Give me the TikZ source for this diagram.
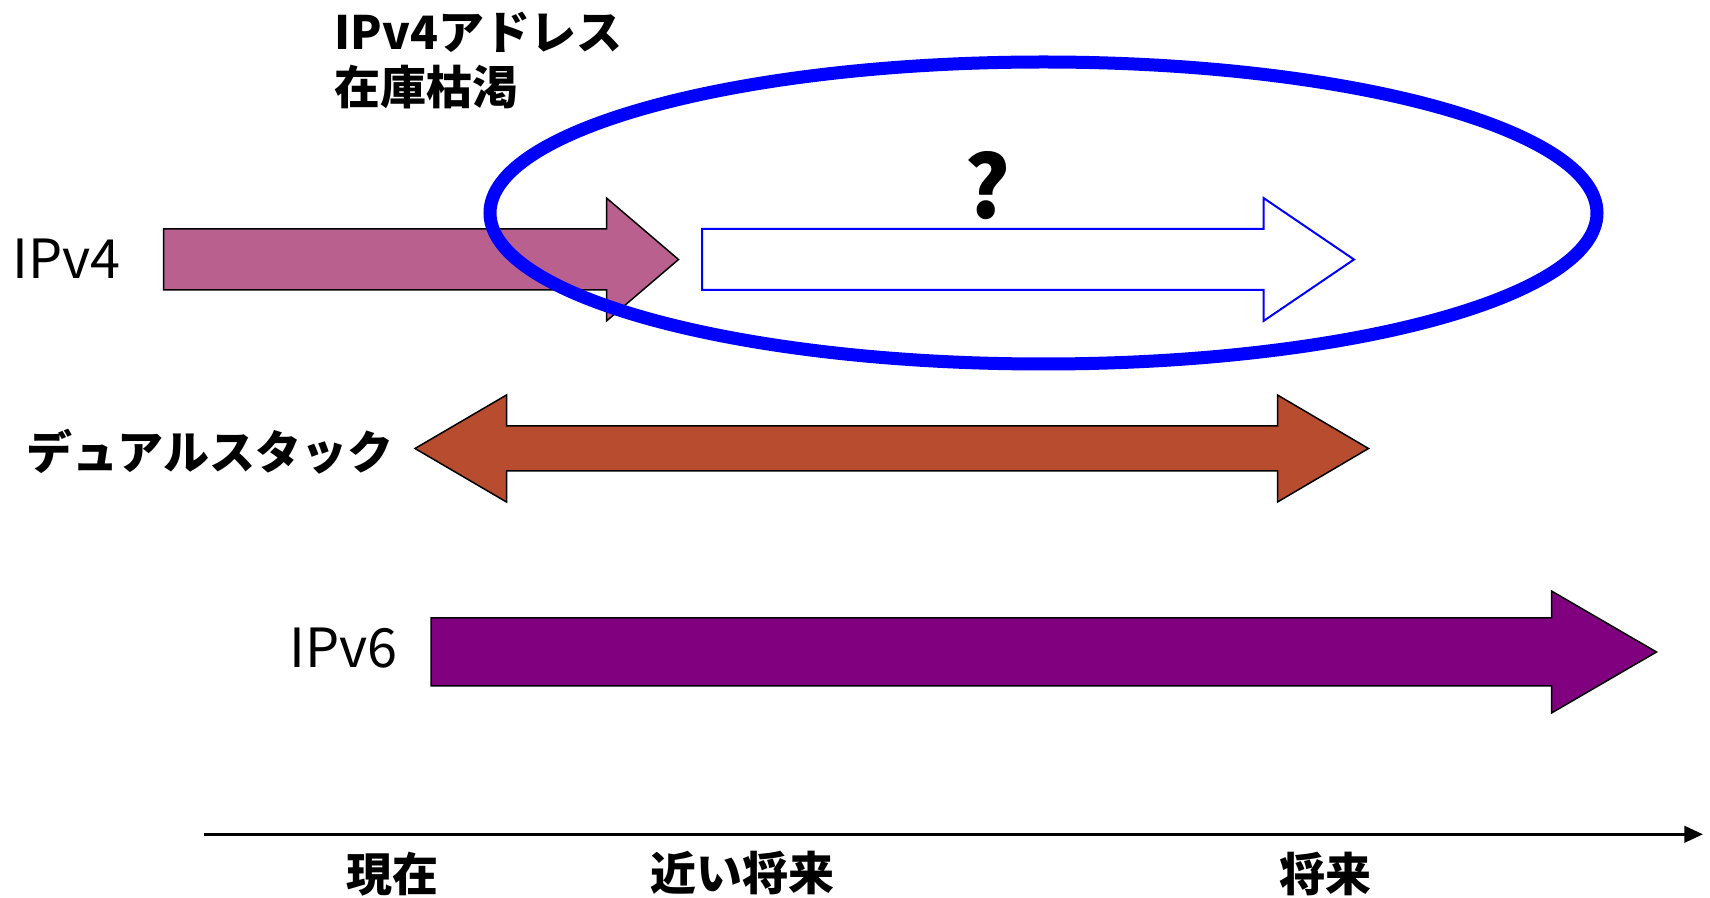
\documentclass[tikz,border=0pt]{standalone}
\usepackage{fontspec}
\setmainfont{Noto Sans CJK JP}

\tikzset{every picture/.style={line width=0.75pt}}
\tikzset{
  blockarrow/.style={draw=black, line width=0.75pt, line join=miter},
  lbltext/.style={inner sep=0pt, font=\fontsize{27}{32}\selectfont},
  jptext/.style={inner sep=0pt, font=\bfseries\fontsize{23}{24}\selectfont},
}

\begin{document}
\begin{tikzpicture}[x=0.5pt,y=0.5pt,yscale=-1,xscale=1]
	%set diagram to the size of the slide picture
	\useasboundingbox (0,0) rectangle (1710,898);
	
	%Shape: Arrow [id:ipv4] 
	\draw  [blockarrow, fill={rgb, 255:red, 185; green, 96; blue, 143 }  ,fill opacity=1 ] (163.5,229) -- (606.5,229) -- (606.5,198) -- (678.5,259.5) -- (606.5,321) -- (606.5,290) -- (163.5,290) -- cycle ;
	%Shape: Ellipse [id:exhaust] 
	\draw  [color={rgb, 255:red, 0; green, 0; blue, 255 }  ,draw opacity=1 ][line width=6.5pt]  (490,213) .. controls (490,129.6) and (737.8,62) .. (1043.5,62) .. controls (1349.2,62) and (1597,129.6) .. (1597,213) .. controls (1597,296.4) and (1349.2,364) .. (1043.5,364) .. controls (737.8,364) and (490,296.4) .. (490,213) -- cycle ;
	%Shape: Arrow [id:unknown] 
	\draw  [color={rgb, 255:red, 0; green, 0; blue, 255 }  ,draw opacity=1 ][fill={rgb, 255:red, 255; green, 255; blue, 255 }  ,fill opacity=1 ][line width=1pt]  (702,229) -- (1263.5,229) -- (1263.5,198) -- (1354,259.5) -- (1263.5,321) -- (1263.5,290) -- (702,290) -- cycle ;
	%Shape: Double Arrow [id:dual] 
	\draw  [blockarrow, fill={rgb, 255:red, 183; green, 76; blue, 46 }  ,fill opacity=1 ] (415,448.5) -- (506.5,395) -- (506.5,426) -- (1277.5,426) -- (1277.5,395) -- (1368.5,448.5) -- (1277.5,502) -- (1277.5,471) -- (506.5,471) -- (506.5,502) -- cycle ;
	%Shape: Arrow [id:ipv6] 
	\draw  [blockarrow, fill={rgb, 255:red, 128; green, 0; blue, 128 }  ,fill opacity=1 ] (431,618) -- (1551.5,618) -- (1551.5,591) -- (1656.5,652) -- (1551.5,713) -- (1551.5,686) -- (431,686) -- cycle ;
	%Straight Lines [id:timeline] 
	\draw [line width=1.35pt]   (204,834.3) -- (1686,834.3) ;
	\draw [shift={(1701,834.3)}, rotate = 180] [fill={rgb, 255:red, 0; green, 0; blue, 0 }  ,fill opacity=1 ][line width=0.75]    (16,-7.5) -- (0,0) -- (16,7.5) -- cycle   ;
	
	% Text Node
	\node [jptext, anchor=west, align=left, font=\bfseries\fontsize{23}{27.5}\selectfont] (title) at (334,60.5) {IPv4アドレス\\在庫枯渇};
	% Text Node
	\node [lbltext, anchor=west] (v4lbl) at (12,259) {IPv4};
	% Text Node
	\node [inner sep=0pt, font=\bfseries\fontsize{43}{46}\selectfont] (qmark) at (988,186) {?};
	% Text Node
	\node [jptext, anchor=west] (duallbl) at (26,452) {デュアルスタック};
	% Text Node
	\node [lbltext, anchor=west] (v6lbl) at (289,648) {IPv6};
	% Text Node
	\node [jptext] (now) at (392,874) {現在};
	% Text Node
	\node [jptext] (near) at (742,873) {近い将来};
	% Text Node
	\node [jptext] (future) at (1325,874) {将来};
	
\end{tikzpicture}
\end{document}
